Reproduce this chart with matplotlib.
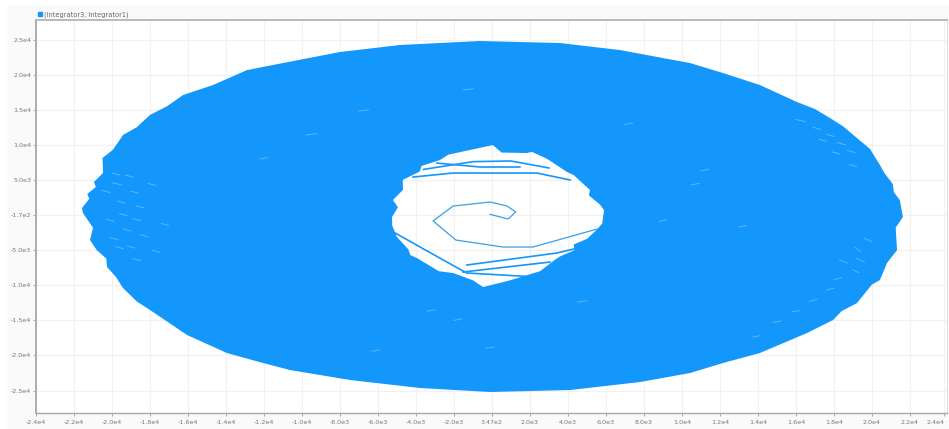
#!/usr/bin/env python3
import matplotlib
matplotlib.use('Agg')
import matplotlib.patches as patches
import matplotlib.pyplot as plt
import numpy as np

x_ticks = [-24000, -22000, -20000, -18000, -16000, -14000, -12000, -10000, -8000, -6000,
           -4000, -2000, 0, 2000, 4000, 6000, 8000, 10000, 12000, 14000, 16000, 18000,
           20000, 22000, 23800]
x_labels = ['-2.4e4', '-2.2e4', '-2.0e4', '-1.8e4', '-1.6e4', '-1.4e4', '-1.2e4', '-1.0e4',
            '-8.0e3', '-6.0e3', '-4.0e3', '-2.0e3', '3.47e2', '2.0e3', '4.0e3', '6.0e3',
            '8.0e3', '1.0e4', '1.2e4', '1.4e4', '1.6e4', '1.8e4', '2.0e4', '2.2e4', '2.4e4']
y_ticks = [25000, 20000, 15000, 10000, 5000, 0, -5000, -10000, -15000, -20000, -25000]
y_labels = ['2.5e4', '2.0e4', '1.5e4', '1.0e4', '5.0e3', '-1.7e2', '-5.0e3', '-1.0e4',
            '-1.5e4', '-2.0e4', '-2.5e4']

# outer edge of the dense trace, read clockwise from the left tip
outer_x = [-21580, -21200, -21300, -20850, -20950, -20470, -20500, -19950, -19420, -18700,
           -18000, -17100, -16260, -14680, -12890, -11000, -8000, -4840, -630, 3580, 6740,
           10420, 12160, 14100, 16050, 17000, 17790, 18500, 19210, 19900, 20420, 20650, 21100,
           21150, 21470, 21630, 21250, 21320, 20800, 20420, 20000, 19210, 18400, 17950, 16580,
           14100, 12160, 10420, 7790, 4110, -100, -3790, -7470, -10630, -12050, -13950, -16050,
           -18000, -18700, -19420, -19800, -20260, -20300, -20800, -21160, -21000, -21530]
outer_y = [1000, 2300, 3000, 4000, 4700, 6000, 8120, 9300, 11400, 12500, 14250, 15500, 17090,
           18520, 20650, 21650, 23220, 24220, 24790, 24500, 23500, 21650, 20230, 18520, 16100,
           15100, 13820, 12600, 10970, 9400, 7120, 6000, 4400, 3280, 2100, -280, -1800, -4990,
           -6800, -9260, -9900, -12540, -13700, -14960, -16810, -19660, -21080, -22510, -23790,
           -24930, -25210, -24640, -23500, -22080, -21080, -19660, -17090, -13530, -12300,
           -10400, -8800, -7410, -6200, -5000, -3560, -1800, 280]
# inner edge of the trace, around the hollow middle
inner_x = [-5260, -4950, -5210, -4680, -4700, -3800, -3700, -2740, -2300, -1160, 50, 500, 1840,
           2100, 2900, 3950, 4300, 5160, 5100, 5680, 5900, 5800, 5500, 5000, 4300, 4350, 3580,
           3300, 2530, 950, -470, -1000, -2050, -2800, -3950, -4300, -4400, -5000, -5250]
inner_y = [-280, 1100, 2140, 3600, 4990, 6200, 7000, 7830, 8600, 9260, 9970, 8900, 8830, 9000,
           8000, 6130, 5700, 3560, 2800, 1500, 710, -1200, -2140, -3400, -4200, -5000, -5900,
           -6400, -8000, -9300, -10260, -9300, -8260, -8000, -6130, -5700, -4900, -3130, -1500]

# start of the trace, visible inside the hollow
spiral_x = [-100, 850, 1250, 800, -100, -2050, -3100, -1900, 580, 2150, 5530]
spiral_y = [100, -570, 430, 1280, 1850, 1280, -850, -3560, -4560, -4560, -2000]
# later laps that still cross the hollow
lap_x = [[-5100, -2370, -1320, 2370], [-1320, 3420, 5000], [-1530, 3050],
         [-4160, -2050, 2370, 4110], [-2900, -630, 1470], [-3600, -1000, 1000, 3000]]
lap_y = [[-2560, -6700, -8260, -8830], [-7120, -5410, -4400], [-8120, -6700],
         [5410, 5980, 5980, 4990], [7400, 6840, 6840], [6500, 7600, 7700, 6700]]

# pale gaps where the trace leaves the fill showing through
gap_x = [[-20500, -20100], [-20000, -19500], [-19700, -19300], [-19300, -18900], [-20300, -19900],
         [-19600, -19200], [-19000, -18600], [-20100, -19700], [-19400, -19000], [-19800, -19400],
         [-18900, -18500], [-20000, -19600], [-19200, -18800], [-18700, -18300], [-18900, -18500],
         [-18500, -18100], [-18100, -17700], [-17900, -17500], [-17400, -17000],
         [16000, 16500], [16900, 17300], [17600, 18000], [18200, 18600], [18700, 19100],
         [17200, 17600], [17900, 18300], [18800, 19200], [19100, 19400], [18000, 18400],
         [19200, 19600], [19600, 20000], [19000, 19300], [18300, 18700], [17600, 18000],
         [16700, 17100], [15800, 16200], [14800, 15200], [13700, 14100],
         [-9800, -9200], [-7000, -6500], [4500, 5000], [-1500, -1000], [11000, 11400],
         [7000, 7400], [-2000, -1600], [13000, 13400], [-3400, -3000], [-300, 100],
         [-6300, -5900], [10500, 10900], [8800, 9200], [-12200, -11800]]
gap_y = [[3500, 3200], [4600, 4300], [2000, 1700], [5700, 5400], [-600, -900],
         [200, -100], [3400, 3100], [-3200, -3500], [-2000, -2300], [-4500, -4800],
         [-500, -800], [6000, 5700], [-4400, -4700], [1300, 1000], [-6200, -6500],
         [-2800, -3100], [4500, 4200], [-5000, -5300], [-1200, -1500],
         [13600, 13300], [12500, 12200], [11500, 11200], [10300, 10000], [9200, 8900],
         [10800, 10500], [9000, 8700], [7200, 6900], [-4600, -5200], [-9200, -8900],
         [-6200, -6700], [-3300, -3800], [-7800, -8200], [-6400, -6800], [-10700, -10400],
         [-12300, -12000], [-13800, -13600], [-15300, -15100], [-17400, -17200],
         [11400, 11600], [14800, 15000], [-12400, -12200], [17800, 18000], [6300, 6500],
         [12900, 13100], [-15000, -14800], [-1700, -1500], [-13700, -13500], [-19000, -18800],
         [-19400, -19200], [4300, 4500], [-900, -700], [8000, 8200]]

trace_color = '#1497fb'


def main():
    fig = plt.figure(figsize=(9.49, 4.29), dpi=100, facecolor='white')
    backing = patches.Rectangle((7 / 949, 0), 942 / 949, 424 / 429, fc='#fafafa', ec='none',
                                transform=fig.transFigure, zorder=-1)
    fig.add_artist(backing)
    ax = fig.add_axes([36 / 949, 16 / 429, 911 / 949, 393 / 429], facecolor='white')
    ax.set_xlim(-24000, 23950)
    ax.set_ylim(-28200, 27780)

    ax.grid(True, color='#f2f0f0', lw=0.9)
    ax.set_axisbelow(True)
    ax.set_xticks(x_ticks, x_labels)
    ax.set_yticks(y_ticks, y_labels)
    ax.tick_params(labelsize=4.6, length=2, width=0.6, color='#999999', labelcolor='#777777')
    ax.tick_params(axis='x', pad=3)
    ax.tick_params(axis='y', pad=1.5)
    ax.get_xticklabels()[-1].set_ha('right')

    for side, lw, color in [('left', 1.3, '#a8a8a8'), ('top', 1.3, '#b4b4b4'),
                            ('bottom', 1.0, '#a8a8a8'), ('right', 0.8, '#dddddd')]:
        ax.spines[side].set_linewidth(lw)
        ax.spines[side].set_color(color)

    xs = np.concatenate([outer_x, outer_x[:1], inner_x[::-1], inner_x[-1:]])
    ys = np.concatenate([outer_y, outer_y[:1], inner_y[::-1], inner_y[-1:]])
    ax.fill(xs, ys, fc=trace_color, ec='none', zorder=3)

    ax.plot(spiral_x, spiral_y, color='#3a9fe8', lw=0.9, zorder=4)
    for lx, ly in zip(lap_x, lap_y):
        ax.plot(lx, ly, color=trace_color, lw=1.2, zorder=4)
    for gx, gy in zip(gap_x, gap_y):
        ax.plot(gx, gy, color='#5cb8fc', lw=0.7, zorder=4)

    ax.plot([], [], ls='none', marker='s', ms=3, color=trace_color,
            label='(Integrator3, Integrator1)')
    ax.legend(loc='lower left', bbox_to_anchor=(0.001, 1.006), frameon=False, fontsize=4.8,
              labelcolor='#666666', borderpad=0, borderaxespad=0, handletextpad=0.1, handlelength=1.0)

    fig.savefig('out.png', dpi=100)


if __name__ == '__main__':
    main()
